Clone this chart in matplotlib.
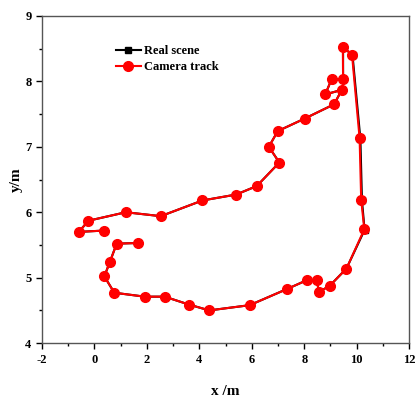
import matplotlib
matplotlib.use("Agg")
import matplotlib.pyplot as plt
from matplotlib.ticker import MultipleLocator

plt.rcParams['font.family'] = ['Liberation Serif', 'DejaVu Serif']
plt.rcParams['font.weight'] = 'bold'
plt.rcParams['axes.unicode_minus'] = False

# --- Trajectory data (m) ---
cam_x = [0.37, -0.59, -0.23, 1.20, 2.53, 4.12, 5.40, 6.19, 7.05, 6.65, 6.99, 8.01,
         9.14, 9.43, 8.80, 9.05, 9.48, 9.47, 9.82, 10.11, 10.17, 10.29, 9.61, 8.98,
         8.56, 8.48, 8.09, 7.36, 5.92, 4.38, 3.60, 2.68, 1.92, 0.76, 0.38, 0.59,
         0.85, 1.65]
cam_y = [5.72, 5.70, 5.87, 6.00, 5.94, 6.18, 6.27, 6.40, 6.76, 7.00, 7.24, 7.43,
         7.65, 7.87, 7.80, 8.04, 8.03, 8.53, 8.41, 7.13, 6.19, 5.74, 5.14, 4.88,
         4.78, 4.96, 4.96, 4.83, 4.58, 4.50, 4.59, 4.71, 4.71, 4.77, 5.02, 5.24,
         5.52, 5.53]

real_x = [0.37, -0.59, -0.23, 1.20, 2.53, 4.12, 5.40, 6.19, 7.05, 6.65, 6.99, 8.01,
          9.14, 9.43, 8.80, 9.05, 9.48, 9.48, 9.84, 10.14, 10.20, 10.30, 9.61, 8.98,
          8.56, 8.48, 8.09, 7.36, 5.92, 4.38, 3.60, 2.68, 1.92, 0.76, 0.38, 0.59,
          0.85, 1.65]
real_y = [5.72, 5.70, 5.87, 6.00, 5.94, 6.18, 6.27, 6.40, 6.76, 7.00, 7.24, 7.43,
          7.65, 7.87, 7.80, 8.04, 8.03, 8.52, 8.40, 7.12, 6.18, 5.73, 5.14, 4.88,
          4.78, 4.96, 4.96, 4.83, 4.58, 4.50, 4.59, 4.71, 4.71, 4.77, 5.02, 5.24,
          5.52, 5.53]

fig = plt.figure(figsize=(4.15, 4.08), dpi=100)
ax = fig.add_axes([0.101, 0.159, 0.885, 0.802])

ax.plot(real_x, real_y, color="black", lw=1.5, marker="s", ms=5,
        label="Real scene")
ax.plot(cam_x, cam_y, color="red", lw=1.5, marker="o", ms=7,
        markeredgecolor="red", label="Camera track")

ax.set_xlim(-2, 12)
ax.set_ylim(4, 9)
ax.xaxis.set_major_locator(MultipleLocator(2))
ax.xaxis.set_minor_locator(MultipleLocator(1))
ax.yaxis.set_major_locator(MultipleLocator(1))
ax.yaxis.set_minor_locator(MultipleLocator(0.5))
ax.tick_params(which="major", direction="out", length=4, width=1, labelsize=9)
ax.tick_params(which="minor", direction="out", length=2, width=1)
for s in ax.spines.values():
    s.set_color("#555555")
    s.set_linewidth(1)
for lab in ax.get_xticklabels() + ax.get_yticklabels():
    lab.set_fontweight("bold")

ax.set_xlabel("x /m", fontsize=11, fontweight="bold", labelpad=14)
ax.set_ylabel("y/m", fontsize=11, fontweight="bold", labelpad=2)

ax.legend(loc="upper left", bbox_to_anchor=(0.17, 0.945), frameon=False,
          prop={"size": 9, "weight": "bold"}, handlelength=2.0,
          handletextpad=0.3, labelspacing=0.3)

fig.savefig("out.png", dpi=100)
